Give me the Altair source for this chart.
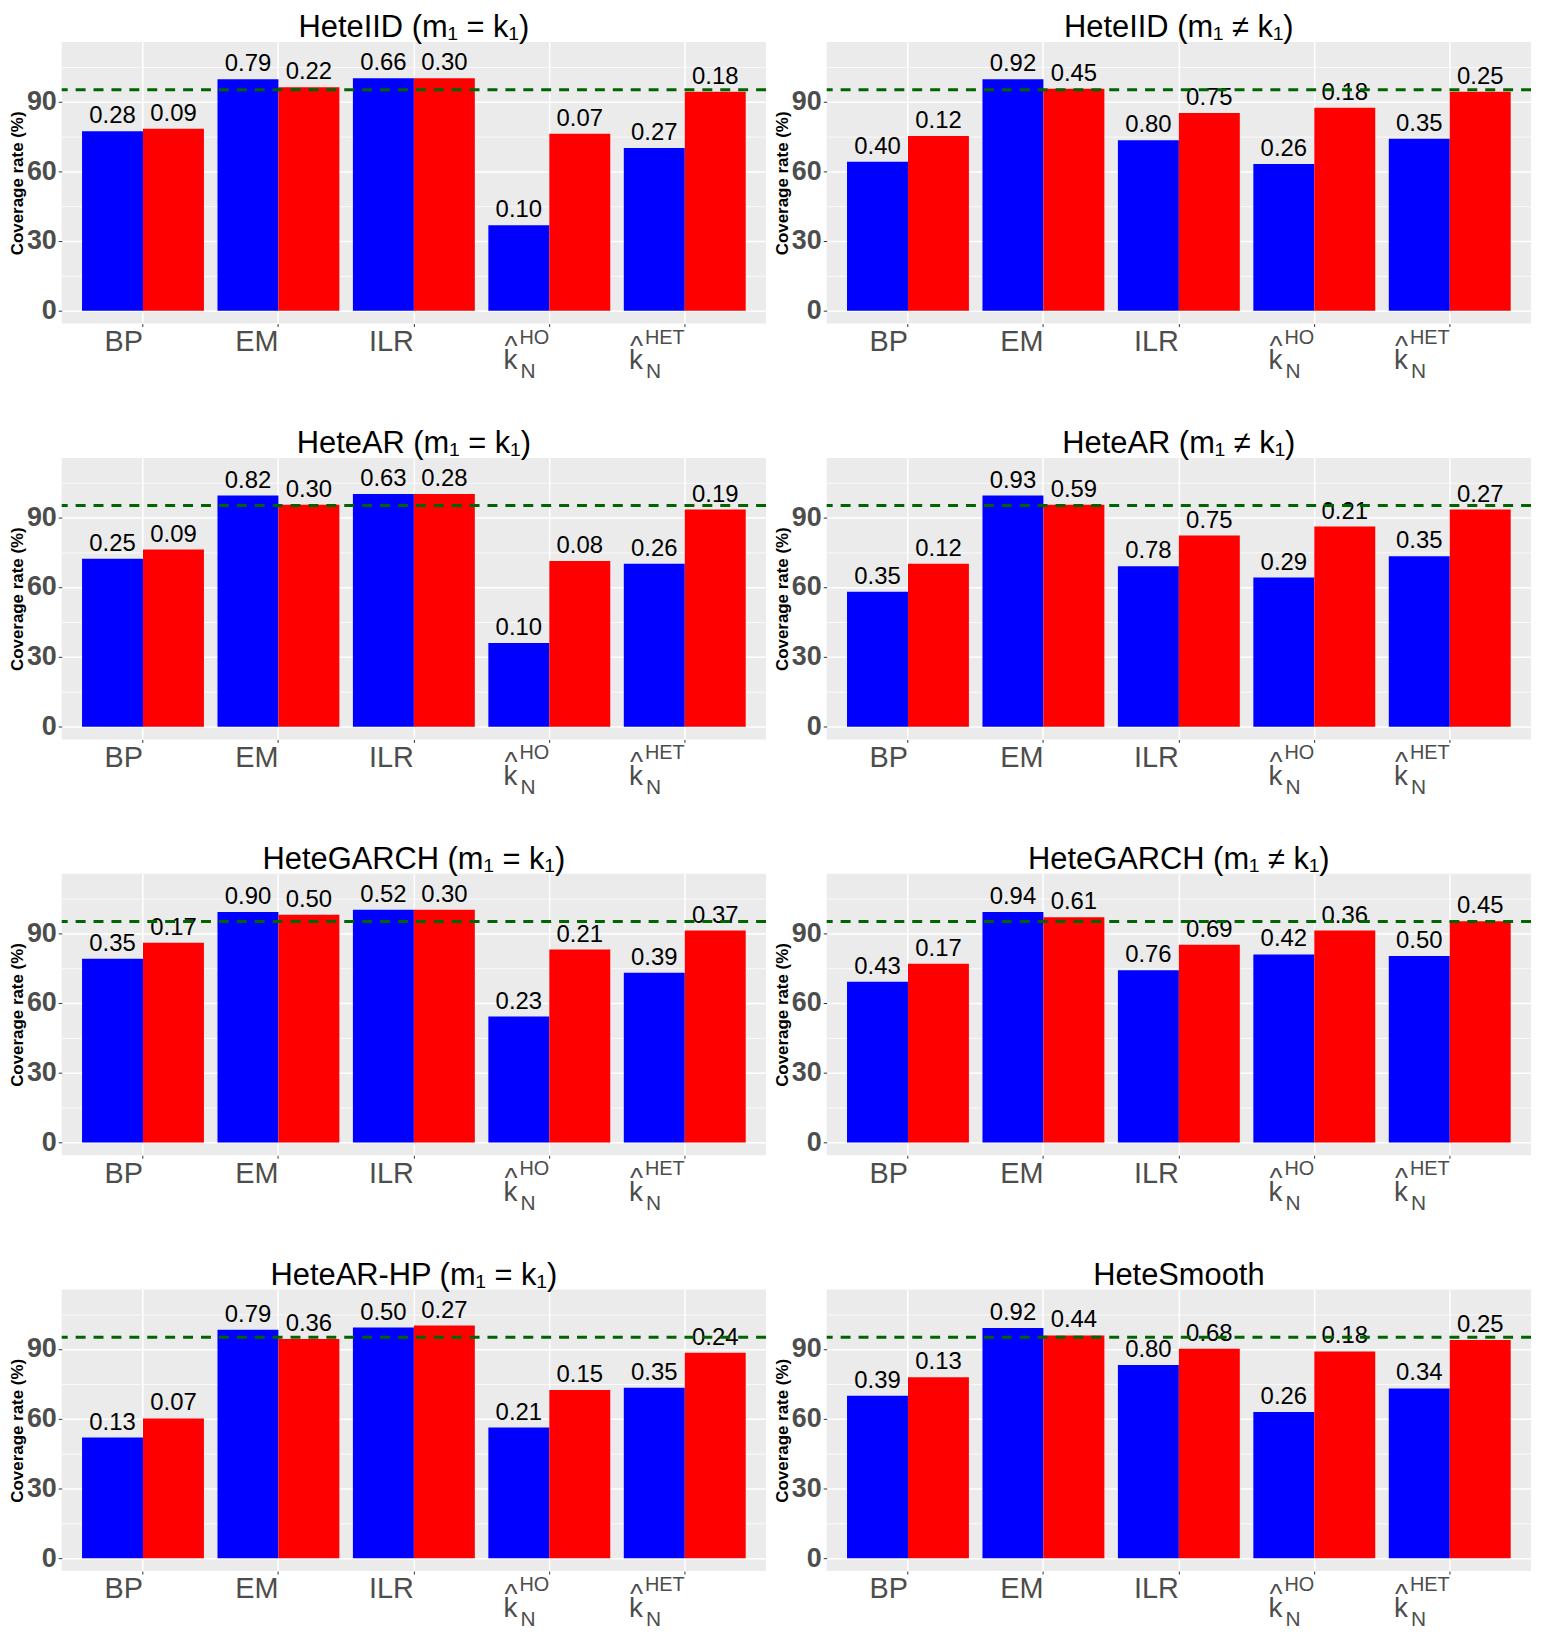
import altair as alt
import pandas as pd

# ---------------- data ----------------
CATS = ["BP", "EM", "ILR", "kHO", "kHET"]
K_CATS = ["kHO", "kHET"]
K_SUP = ["HO", "HET"]
SERIES = ["S1", "S2"]
COLORS = ["#0000FF", "#FF0000"]
REF_LINE = 95
Y_TICKS = [0, 15, 30, 45, 60, 75, 90, 105]

TITLES = [
    "HeteIID (m\u2081 = k\u2081)",
    "HeteIID (m\u2081 \u2260 k\u2081)",
    "HeteAR (m\u2081 = k\u2081)",
    "HeteAR (m\u2081 \u2260 k\u2081)",
    "HeteGARCH (m\u2081 = k\u2081)",
    "HeteGARCH (m\u2081 \u2260 k\u2081)",
    "HeteAR-HP (m\u2081 = k\u2081)",
    "HeteSmooth",
]

# coverage rate (%) - blue / red bars
iid_eq_blue = [77.2, 99.5, 100.0, 36.8, 70.0]
iid_eq_red = [78.2, 96.1, 100.0, 76.1, 94.2]
iid_ne_blue = [64.1, 99.5, 73.3, 63.1, 74.0]
iid_ne_red = [75.1, 95.4, 85.0, 87.3, 94.2]
ar_eq_blue = [72.2, 99.3, 100.0, 35.9, 70.0]
ar_eq_red = [76.1, 95.4, 100.0, 71.2, 93.3]
ar_ne_blue = [58.0, 99.3, 68.9, 64.1, 73.2]
ar_ne_red = [70.0, 95.4, 82.1, 86.0, 93.3]
garch_eq_blue = [79.0, 99.1, 100.0, 54.1, 72.9]
garch_eq_red = [85.8, 97.9, 100.0, 82.9, 91.1]
garch_ne_blue = [69.1, 99.1, 74.0, 80.8, 80.1]
garch_ne_red = [76.8, 96.8, 85.0, 91.1, 95.1]
arhp_eq_blue = [51.9, 98.2, 99.2, 56.2, 73.3]
arhp_eq_red = [60.1, 94.2, 100.0, 72.3, 88.3]
smooth_blue = [69.8, 99.0, 83.1, 62.9, 73.0]
smooth_red = [77.8, 95.8, 90.0, 88.9, 93.8]

# numbers printed above the bars
iid_eq_lab_blue = [0.28, 0.79, 0.66, 0.10, 0.27]
iid_eq_lab_red = [0.09, 0.22, 0.30, 0.07, 0.18]
iid_ne_lab_blue = [0.40, 0.92, 0.80, 0.26, 0.35]
iid_ne_lab_red = [0.12, 0.45, 0.75, 0.18, 0.25]
ar_eq_lab_blue = [0.25, 0.82, 0.63, 0.10, 0.26]
ar_eq_lab_red = [0.09, 0.30, 0.28, 0.08, 0.19]
ar_ne_lab_blue = [0.35, 0.93, 0.78, 0.29, 0.35]
ar_ne_lab_red = [0.12, 0.59, 0.75, 0.21, 0.27]
garch_eq_lab_blue = [0.35, 0.90, 0.52, 0.23, 0.39]
garch_eq_lab_red = [0.17, 0.50, 0.30, 0.21, 0.37]
garch_ne_lab_blue = [0.43, 0.94, 0.76, 0.42, 0.50]
garch_ne_lab_red = [0.17, 0.61, 0.69, 0.36, 0.45]
arhp_eq_lab_blue = [0.13, 0.79, 0.50, 0.21, 0.35]
arhp_eq_lab_red = [0.07, 0.36, 0.27, 0.15, 0.24]
smooth_lab_blue = [0.39, 0.92, 0.80, 0.26, 0.34]
smooth_lab_red = [0.13, 0.44, 0.68, 0.18, 0.25]

PANELS = [
    (TITLES[0], iid_eq_blue, iid_eq_red, iid_eq_lab_blue, iid_eq_lab_red),
    (TITLES[1], iid_ne_blue, iid_ne_red, iid_ne_lab_blue, iid_ne_lab_red),
    (TITLES[2], ar_eq_blue, ar_eq_red, ar_eq_lab_blue, ar_eq_lab_red),
    (TITLES[3], ar_ne_blue, ar_ne_red, ar_ne_lab_blue, ar_ne_lab_red),
    (TITLES[4], garch_eq_blue, garch_eq_red, garch_eq_lab_blue, garch_eq_lab_red),
    (TITLES[5], garch_ne_blue, garch_ne_red, garch_ne_lab_blue, garch_ne_lab_red),
    (TITLES[6], arhp_eq_blue, arhp_eq_red, arhp_eq_lab_blue, arhp_eq_lab_red),
    (TITLES[7], smooth_blue, smooth_red, smooth_lab_blue, smooth_lab_red),
]

# ---------------- styling ----------------
FONT = "Liberation Sans, Arial, Helvetica, sans-serif"
GRAY = "#4D4D4D"
W, H = 708, 283
K_DX = {"kHO": -45, "kHET": -55}  # left edge of the k-hat label relative to its tick


def make_panel(title, cov_b, cov_r, lab_b, lab_r):
    rows = []
    for i, c in enumerate(CATS):
        rows.append({"cat": c, "series": SERIES[0], "cov": cov_b[i], "lab": lab_b[i]})
        rows.append({"cat": c, "series": SERIES[1], "cov": cov_r[i], "lab": lab_r[i]})
    df = pd.DataFrame(rows)

    x_enc = alt.X(
        "cat:N",
        sort=CATS,
        scale=alt.Scale(domain=CATS, paddingInner=0.1, paddingOuter=0.15),
        axis=alt.Axis(
            title=None,
            labelExpr="indexof(['BP','EM','ILR'], datum.value) >= 0 ? datum.value : ''",
            labelAngle=0,
            labelAlign="right",
            labelBaseline="alphabetic",
            labelPadding=24,
            labelFontSize=29,
            labelFont=FONT,
            labelColor=GRAY,
            labelOverlap=False,
            tickSize=3,
            tickColor="#333333",
            tickWidth=1,
            grid=True,
            gridColor="white",
            gridWidth=1.5,
            domain=False,
            bandPosition=0.5,
        ),
    )
    y_enc = alt.Y(
        "cov:Q",
        scale=alt.Scale(domain=[-5.5, 115.5], nice=False, zero=False),
        axis=alt.Axis(
            title="Coverage rate (%)",
            titleFont=FONT,
            titleFontSize=17,
            titleFontWeight="bold",
            titleColor="black",
            titlePadding=0,
            values=Y_TICKS,
            labelExpr="datum.value % 30 === 0 ? datum.label : ''",
            labelFont=FONT,
            labelFontSize=27,
            labelFontWeight="bold",
            labelColor=GRAY,
            labelPadding=2,
            tickSize=3.5,
            tickColor="#333333",
            tickOpacity={"condition": {"test": "datum.value % 30 === 0", "value": 1}, "value": 0},
            grid=True,
            gridColor="white",
            gridWidth={"condition": {"test": "datum.value % 30 === 0", "value": 1.5}, "value": 0.8},
            domain=False,
        ),
    )
    xoff = alt.XOffset("series:N", sort=SERIES, scale=alt.Scale(paddingInner=0, paddingOuter=0))

    bars = alt.Chart(df).mark_bar().encode(
        x=x_enc,
        xOffset=xoff,
        y=y_enc,
        y2=alt.datum(0),
        color=alt.Color("series:N", sort=SERIES, scale=alt.Scale(domain=SERIES, range=COLORS), legend=None),
    )
    labels = alt.Chart(df).mark_text(
        font=FONT, fontSize=24, color="black", baseline="alphabetic", dy=-8
    ).encode(
        x=x_enc,
        xOffset=xoff,
        y=alt.Y("cov:Q"),
        text=alt.Text("lab:Q", format=".2f"),
    )
    rule = alt.Chart(pd.DataFrame({"ref": [REF_LINE]})).mark_rule(
        color="#006400", strokeWidth=3, strokeDash=[10, 8]
    ).encode(y=alt.Y("ref:Q"))

    klayers = []
    dfk = pd.DataFrame({"cat": K_CATS, "sup": K_SUP})
    for cat in K_CATS:
        d = dfk[dfk["cat"] == cat]
        a = K_DX[cat]
        # superscript (HO / HET), right-aligned on the tick
        klayers.append(
            alt.Chart(d).mark_text(font=FONT, fontSize=20, color=GRAY, align="right", baseline="alphabetic")
            .encode(x=x_enc, y=alt.value(H + 20), text="sup:N")
        )
        # hat over k (two-line text), right edge just before the subscript
        klayers.append(
            alt.Chart(d).mark_text(
                font=FONT, fontSize=28, color=GRAY, align="right", baseline="alphabetic",
                lineHeight=14, dx=a + 13,
            ).encode(x=x_enc, y=alt.value(H + 32), text=alt.value(["^", "k"]))
        )
        # subscript N
        klayers.append(
            alt.Chart(d).mark_text(font=FONT, fontSize=21, color=GRAY, align="left", baseline="alphabetic", dx=a + 16)
            .encode(x=x_enc, y=alt.value(H + 55), text=alt.value("N"))
        )

    return alt.layer(bars, labels, rule, *klayers).properties(
        width=W,
        height=H,
        title=alt.TitleParams(
            text=title, font=FONT, fontSize=31, fontWeight="normal", color="black", anchor="middle", offset=-2
        ),
    )


panels = [make_panel(*p) for p in PANELS]

chart = alt.concat(
    *panels, columns=2, spacing={"row": 135, "column": 61}, bounds="flush"
).properties(padding=0).configure_view(fill="#EBEBEB", strokeWidth=0)

chart.save("out.html", embed_options={"renderer": "svg", "actions": False})
